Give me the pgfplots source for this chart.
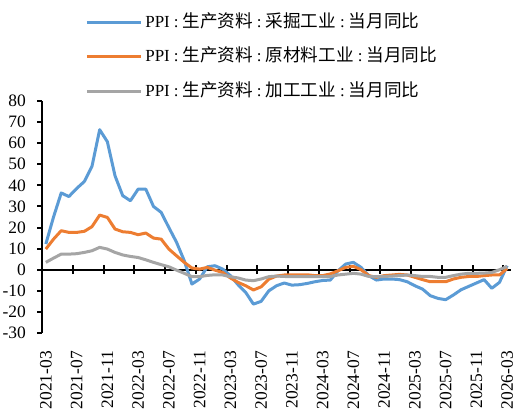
\documentclass[border=0pt]{standalone}
\usepackage{fontspec}
\setmainfont{Liberation Serif}
\newfontfamily\cjk[Scale=1.04]{Noto Sans CJK SC}
\usepackage{pgfplots}
\usepackage{pgfplotstable}
\pgfplotsset{compat=1.18}
\definecolor{sblue}{HTML}{5B9BD5}
\definecolor{sorange}{HTML}{ED7D31}
\definecolor{sgray}{HTML}{A5A5A5}

\pgfplotstableread{
m blue orange gray
0 12.2 9.8 3.5
1 25.0 14.5 5.5
2 36.4 18.5 7.4
3 34.7 17.7 7.4
4 38.5 17.7 7.6
5 41.8 18.2 8.2
6 49.0 20.4 9.0
7 66.4 25.9 10.6
8 60.7 24.8 9.8
9 44.5 19.3 8.2
10 35.1 18.0 7.0
11 32.7 17.7 6.3
12 38.2 16.6 5.8
13 38.2 17.4 4.7
14 30.0 15.0 3.5
15 27.2 14.5 2.4
16 20.0 9.8 1.4
17 13.0 6.6 -0.2
18 4.3 3.5 -1.7
19 -6.8 0.8 -3.3
20 -4.4 0.3 -3.3
21 1.4 1.1 -2.7
22 1.9 -0.2 -2.4
23 0.3 -1.3 -2.5
24 -2.8 -3.9 -3.3
25 -7.1 -6.0 -3.9
26 -10.8 -7.6 -4.9
27 -16.3 -9.6 -5.2
28 -15.0 -8.1 -4.4
29 -10.0 -4.5 -3.3
30 -7.6 -3.0 -3.0
31 -6.3 -2.5 -3.2
32 -7.3 -2.5 -3.3
33 -7.1 -2.5 -3.3
34 -6.5 -2.4 -3.3
35 -5.7 -2.8 -3.3
36 -5.1 -2.8 -3.3
37 -4.9 -2.0 -3.2
38 -0.5 -0.5 -2.5
39 2.7 1.1 -2.1
40 3.5 1.6 -1.7
41 1.1 0.0 -2.1
42 -2.8 -2.8 -3.2
43 -4.9 -3.6 -3.3
44 -4.4 -2.8 -3.2
45 -4.4 -2.5 -3.0
46 -4.7 -2.2 -2.8
47 -5.7 -2.5 -2.5
48 -7.6 -3.6 -2.8
49 -9.2 -4.7 -3.2
50 -12.3 -5.7 -3.2
51 -13.6 -5.7 -3.6
52 -14.2 -5.7 -3.6
53 -12.0 -4.4 -2.8
54 -9.5 -3.6 -2.1
55 -7.9 -3.2 -1.7
56 -6.3 -3.2 -1.7
57 -4.7 -2.8 -1.6
58 -8.8 -2.5 -1.3
59 -6.0 -2.5 0.0
60 1.9 0.6 1.6
}\datatable

\begin{document}
\begin{tikzpicture}
\useasboundingbox (0,0) rectangle (516bp,414bp);
% zero line with crossing ticks
\begin{axis}[
  at={(42bp,81bp)}, anchor=south west, scale only axis,
  width=469bp, height=232bp,
  xmin=-0.5, xmax=60.5, ymin=-30, ymax=80,
  axis x line=middle, axis y line=none,
  x axis line style={-, line width=2bp, black},
  xtick={3.5,7.5,...,59.5}, xticklabels={},
  ytick=\empty,
  tick align=center, major tick length=9bp,
  xtick style={line width=2bp, black},
]
\end{axis}
% main axis
\begin{axis}[
  at={(42bp,81bp)}, anchor=south west, scale only axis,
  width=469bp, height=232bp,
  xmin=-0.5, xmax=60.5, ymin=-30, ymax=80,
  axis y line*=left, axis x line*=bottom,
  x axis line style={draw=none},
  y axis line style={-, line width=2bp, black},
  xtick={0,4,...,60},
  xticklabels={2021-03,2021-07,2021-11,2022-03,2022-07,2022-11,2023-03,2023-07,2023-11,2024-03,2024-07,2024-11,2025-03,2025-07,2025-11,2026-03},
  xtick style={draw=none},
  xticklabel style={rotate=90, anchor=east, inner sep=0pt},
  xticklabel shift=13bp,
  ytick={-30,-20,...,80},
  yticklabels={-30,-20,-10,0,10,20,30,40,50,60,70,80},
  ytick style={line width=2bp, black},
  tick align=outside, major tick length=5bp,
  yticklabel style={inner sep=0pt, anchor=east},
  yticklabel shift=11bp,
  tick label style={font=\fontsize{17.5}{20}\selectfont},
  legend cell align=left,
  legend image code/.code={\draw[#1, line width=3bp] (0bp,0bp) -- (54bp,0bp);},
  legend style={at={(0.092,1.38)}, anchor=north west, draw=none, fill=none,
    inner sep=0pt, row sep=16.5bp, font=\fontsize{17}{20}\selectfont,
    nodes={inner sep=0pt, text height=14bp, text depth=4bp},
    /tikz/every odd column/.append style={column sep=3bp}},
  every axis plot/.append style={line width=3bp, line join=round},
]
\addplot[sblue, no markers] table[x=m, y=blue] {\datatable};
\addlegendentry{PPI\hspace{4bp}:\hspace{4bp}{\cjk 生产资料}\hspace{4bp}:\hspace{4bp}{\cjk 采掘工业}\hspace{4bp}:\hspace{4bp}{\cjk 当月同比}}
\addplot[sorange, no markers] table[x=m, y=orange] {\datatable};
\addlegendentry{PPI\hspace{4bp}:\hspace{4bp}{\cjk 生产资料}\hspace{4bp}:\hspace{4bp}{\cjk 原材料工业}\hspace{4bp}:\hspace{4bp}{\cjk 当月同比}}
\addplot[sgray, no markers] table[x=m, y=gray] {\datatable};
\addlegendentry{PPI\hspace{4bp}:\hspace{4bp}{\cjk 生产资料}\hspace{4bp}:\hspace{4bp}{\cjk 加工工业}\hspace{4bp}:\hspace{4bp}{\cjk 当月同比}}
\end{axis}
\end{tikzpicture}
\end{document}
